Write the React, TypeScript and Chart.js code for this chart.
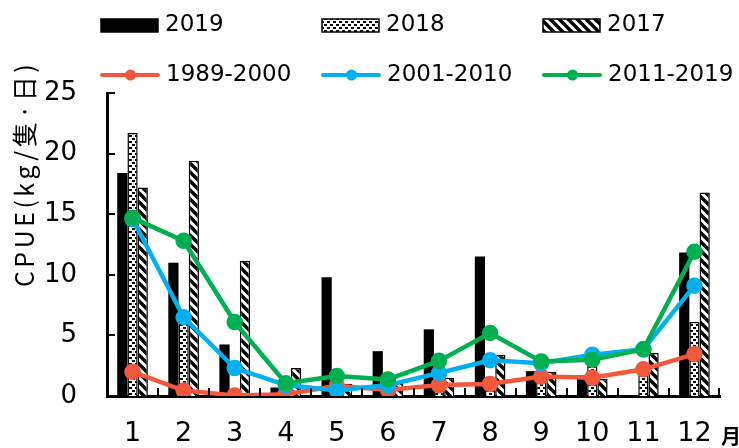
import React, { useEffect, useRef } from "react";
import { Chart, registerables } from "chart.js";

Chart.register(...registerables);

const months = ["1", "2", "3", "4", "5", "6", "7", "8", "9", "10", "11", "12"];
const yTicks = [0, 5, 10, 15, 20, 25];

const bar2019 = [18.4, 11.0, 4.25, 0.7, 9.8, 3.7, 5.5, 11.5, 2.05, 1.7, null, 11.85];
const bar2018 = [21.7, 6.1, null, 0.8, 0.5, 1.9, 1.2, 1.0, 2.0, 2.7, 2.1, 6.1];
const bar2017 = [17.2, 19.4, 11.15, 2.3, 1.0, 1.2, 1.5, 3.4, 2.0, 1.4, 3.55, 16.8];

const line1989 = [2.0, 0.45, 0.05, 0.15, 0.85, 0.5, 0.9, 1.0, 1.6, 1.5, 2.2, 3.45];
const line2001 = [14.6, 6.5, 2.3, 0.9, 0.45, 0.9, 1.9, 2.95, 2.7, 3.4, 3.85, 9.1];
const line2011 = [14.7, 12.8, 6.1, 1.05, 1.65, 1.37, 2.9, 5.2, 2.85, 3.0, 3.85, 11.9];

const RED = "#F4583C";
const BLUE = "#00B0F0";
const GREEN = "#00B050";

function makeDotPattern(ctx: CanvasRenderingContext2D) {
  const c = document.createElement("canvas");
  c.width = 6;
  c.height = 6;
  const g = c.getContext("2d")!;
  g.fillStyle = "#fff";
  g.fillRect(0, 0, 6, 6);
  g.fillStyle = "#000";
  g.fillRect(0, 0, 3, 2);
  g.fillRect(3, 3, 3, 2);
  return ctx.createPattern(c, "repeat")!;
}

function makeHatchPattern(ctx: CanvasRenderingContext2D) {
  const c = document.createElement("canvas");
  c.width = 9;
  c.height = 9;
  const g = c.getContext("2d")!;
  g.fillStyle = "#fff";
  g.fillRect(0, 0, 9, 9);
  g.strokeStyle = "#000";
  g.lineWidth = 3.4;
  g.lineCap = "square";
  for (const off of [-9, 0, 9]) {
    g.beginPath();
    g.moveTo(off, 0);
    g.lineTo(off + 9, 9);
    g.stroke();
  }
  return ctx.createPattern(c, "repeat")!;
}

export default function App() {
  const ref = useRef<HTMLCanvasElement | null>(null);

  useEffect(() => {
    const canvas = ref.current!;
    const ctx = canvas.getContext("2d")!;
    const dots = makeDotPattern(ctx);
    const hatch = makeHatchPattern(ctx);

    const overlay = {
      id: "overlay",
      afterDraw(chart: any) {
        const c = chart.ctx as CanvasRenderingContext2D;
        const area = chart.chartArea;
        const ys = chart.scales.y;
        c.save();
        // inner tick marks
        c.strokeStyle = "#000";
        c.lineWidth = 2;
        for (const v of yTicks) {
          const y = Math.round(ys.getPixelForValue(v));
          c.beginPath();
          c.moveTo(area.left, y);
          c.lineTo(area.left + 8, y);
          c.stroke();
        }
        const step = (area.right - area.left) / months.length;
        for (let i = 1; i <= months.length; i++) {
          const x = Math.round(area.left + step * i) - (i === months.length ? 1 : 0);
          c.beginPath();
          c.moveTo(x, area.bottom);
          c.lineTo(x, area.bottom - 8);
          c.stroke();
        }
        // axis title
        c.save();
        c.translate(24, 174);
        c.rotate(-Math.PI / 2);
        c.fillStyle = "#000";
        c.font = "25px 'Noto Sans CJK JP'";
        (c as any).letterSpacing = "3.5px";
        c.textAlign = "center";
        c.textBaseline = "middle";
        c.fillText("CPUE(kg/隻·日)", 0, 0);
        c.restore();
        // month unit
        c.fillStyle = "#000";
        c.font = "bold 20px 'Noto Sans CJK JP'";
        c.textAlign = "left";
        c.textBaseline = "top";
        c.fillText("月", 721, 426);
        // legend
        const cols = [101, 322, 543];
        const bw = 57;
        c.font = "23px 'DejaVu Sans'";
        c.textBaseline = "middle";
        const barItems: [any, string][] = [
          ["#000", "2019"],
          [dots, "2018"],
          [hatch, "2017"],
        ];
        barItems.forEach(([fill, label], i) => {
          const x = cols[i];
          c.fillStyle = fill;
          c.fillRect(x, 19, bw, 13);
          c.strokeStyle = "#000";
          c.lineWidth = 1.5;
          c.strokeRect(x, 19, bw, 13);
          c.fillStyle = "#000";
          c.fillText(label, x + bw + 7, 25);
        });
        const lineItems: [string, string][] = [
          [RED, "1989-2000"],
          [BLUE, "2001-2010"],
          [GREEN, "2011-2019"],
        ];
        lineItems.forEach(([col, label], i) => {
          const x = cols[i];
          c.strokeStyle = col;
          c.lineWidth = 4;
          c.lineCap = "round";
          c.beginPath();
          c.moveTo(x + 1, 75);
          c.lineTo(x + bw, 75);
          c.stroke();
          c.fillStyle = col;
          c.beginPath();
          c.arc(x + bw / 2 + 1, 75, 5.5, 0, Math.PI * 2);
          c.fill();
          c.fillStyle = "#000";
          c.fillText(label, x + bw + 8, 75);
        });
        c.restore();
      },
    };

    const barCommon = {
      type: "bar" as const,
      categoryPercentage: 0.6,
      barPercentage: 1.0,
      borderColor: "#000",
      borderSkipped: "bottom" as const,
      order: 10,
    };
    const lineCommon = {
      type: "line" as const,
      borderWidth: 4.5,
      pointRadius: 6,
      pointHoverRadius: 6,
      tension: 0,
    };

    const chart = new Chart(canvas, {
      type: "bar",
      data: {
        labels: months,
        datasets: [
          { ...barCommon, label: "2019", data: bar2019, backgroundColor: "#000", borderWidth: 0 },
          { ...barCommon, label: "2018", data: bar2018, backgroundColor: dots, borderWidth: 1.5 },
          { ...barCommon, label: "2017", data: bar2017, backgroundColor: hatch, borderWidth: 1.5 },
          { ...lineCommon, label: "1989-2000", data: line1989, borderColor: RED, backgroundColor: RED, pointBackgroundColor: RED, pointBorderColor: RED, order: 3 },
          { ...lineCommon, label: "2001-2010", data: line2001, borderColor: BLUE, backgroundColor: BLUE, pointBackgroundColor: BLUE, pointBorderColor: BLUE, order: 2 },
          { ...lineCommon, label: "2011-2019", data: line2011, borderColor: GREEN, backgroundColor: GREEN, pointBackgroundColor: GREEN, pointBorderColor: GREEN, order: 1 },
        ] as any,
      },
      options: {
        animation: false,
        responsive: false,
        maintainAspectRatio: false,
        devicePixelRatio: 1,
        layout: { padding: { top: 93, right: 19, left: 0, bottom: 0 } },
        plugins: {
          legend: { display: false },
          title: { display: false },
          tooltip: { enabled: false },
        },
        scales: {
          x: {
            offset: true,
            grid: { display: false },
            border: { display: true, color: "#000", width: 3 },
            ticks: {
              color: "#000",
              font: { family: "'DejaVu Sans'", size: 27 },
              padding: 14,
              maxRotation: 0,
              autoSkip: false,
            },
            afterFit: (s: any) => {
              s.height = 52;
            },
          },
          y: {
            min: 0,
            max: 25,
            grid: { display: false },
            border: { display: true, color: "#000", width: 3 },
            ticks: {
              stepSize: 5,
              color: "#000",
              font: { family: "'DejaVu Sans'", size: 26 },
              padding: 22,
            },
            afterFit: (s: any) => {
              s.width = 107;
            },
          },
        },
      },
      plugins: [overlay],
    } as any);

    return () => chart.destroy();
  }, []);

  return (
    <div style={{ position: "fixed", left: 0, top: 0, width: 739, height: 448, background: "#fff" }}>
      <canvas ref={ref} width={739} height={448} style={{ width: 739, height: 448, display: "block" }} />
    </div>
  );
}
